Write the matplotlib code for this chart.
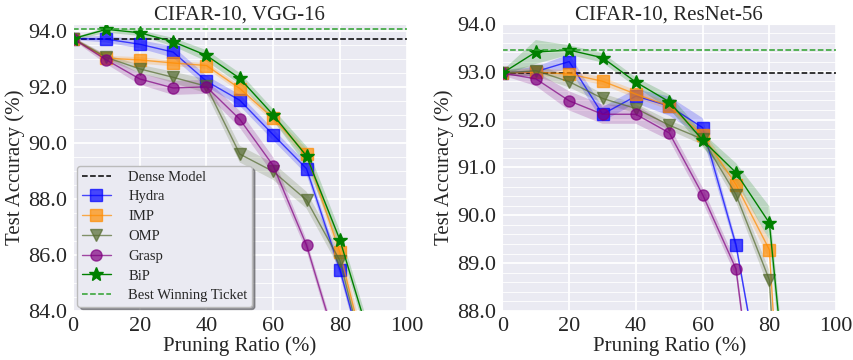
import matplotlib.pyplot as plt
from matplotlib.ticker import MultipleLocator
import seaborn as sns
import numpy as np

sns.set_style('darkgrid')
plt.rcParams['font.family'] = ['Liberation Serif', 'DejaVu Serif']

ratio = [0, 10, 20, 30, 40, 50, 60, 70, 80, 90]

# CIFAR-10, VGG-16
vgg_dense = 93.72
vgg_best = 94.08
vgg_hydra = [93.72, 93.70, 93.52, 93.24, 92.20, 91.52, 90.29, 89.08, 85.48, 81.1]
vgg_imp = [93.72, 93.02, 92.96, 92.85, 92.76, 91.94, 90.88, 89.60, 86.10, 81.3]
vgg_omp = [93.72, 93.05, 92.64, 92.34, 92.02, 89.60, 88.98, 87.96, 85.80, 81.1]
vgg_grasp = [93.72, 92.96, 92.28, 91.96, 92.00, 90.84, 89.19, 86.35, 82.40, 75.0]
vgg_bip = [93.72, 94.05, 93.93, 93.61, 93.12, 92.30, 91.00, 89.53, 86.54, 82.6]
vgg_hydra_std = [0.05, 0.12, 0.15, 0.2, 0.2, 0.2, 0.2, 0.2, 0.2, 0.2]
vgg_imp_std = [0.05, 0.1, 0.12, 0.1, 0.1, 0.12, 0.12, 0.2, 0.3, 0.3]
vgg_omp_std = [0.05, 0.1, 0.15, 0.2, 0.25, 0.3, 0.3, 0.3, 0.3, 0.3]
vgg_grasp_std = [0.05, 0.15, 0.2, 0.25, 0.25, 0.3, 0.3, 0.2, 0.2, 0.2]
vgg_bip_std = [0.05, 0.1, 0.1, 0.15, 0.2, 0.2, 0.2, 0.35, 0.3, 0.3]

# CIFAR-10, ResNet-56
res_dense = 92.97
res_best = 93.45
res_hydra = [92.97, 93.00, 93.21, 92.11, 92.49, 92.28, 91.83, 89.38, 85.5, 82.0]
res_imp = [92.97, 92.99, 92.95, 92.80, 92.53, 92.28, 91.67, 90.64, 89.28, 78.0]
res_omp = [92.97, 93.02, 92.79, 92.44, 92.23, 91.88, 91.59, 90.43, 88.65, 77.0]
res_grasp = [92.97, 92.85, 92.39, 92.11, 92.11, 91.72, 90.43, 88.88, 83.5, 78.0]
res_bip = [92.97, 93.41, 93.45, 93.29, 92.78, 92.37, 91.57, 90.89, 89.84, 82.8]
res_hydra_std = [0.05, 0.1, 0.15, 0.15, 0.15, 0.2, 0.2, 0.1, 0.1, 0.1]
res_imp_std = [0.05, 0.08, 0.08, 0.08, 0.08, 0.08, 0.1, 0.15, 0.2, 0.2]
res_omp_std = [0.05, 0.12, 0.12, 0.1, 0.1, 0.1, 0.12, 0.15, 0.2, 0.2]
res_grasp_std = [0.05, 0.15, 0.2, 0.2, 0.2, 0.15, 0.15, 0.15, 0.15, 0.15]
res_bip_std = [0.05, 0.25, 0.1, 0.1, 0.1, 0.15, 0.15, 0.2, 0.35, 0.3]

styles = [
    ('Hydra', 'blue', 's'),
    ('IMP', 'darkorange', 's'),
    ('OMP', 'darkolivegreen', 'v'),
    ('Grasp', 'purple', 'o'),
    ('BiP', 'green', '*'),
]


def draw(ax, dense, best, series, stds, title, ylim, minor):
    ax.axhline(dense, color='black', ls='--', lw=1.1, label='Dense Model')
    for (name, c, m), y, s in zip(styles, series, stds):
        y = np.array(y)
        s = np.array(s)
        ax.fill_between(ratio, y - s, y + s, color=c, alpha=0.2, lw=0)
        if name == 'BiP':
            ax.plot(ratio, y, color=c, marker=m, ms=10, lw=1.0, label=name)
        else:
            ax.plot(ratio, y, color=c, marker=m, ms=8, lw=1.0, alpha=0.7,
                    label=name)
    ax.axhline(best, color='tab:green', ls='--', lw=1.1,
               label='Best Winning Ticket')
    ax.set_xlim(0, 100)
    ax.set_ylim(*ylim)
    ax.set_xticks([0, 20, 40, 60, 80, 100])
    ax.yaxis.set_minor_locator(MultipleLocator(minor))
    ax.grid(which='major', color='white', lw=1.3)
    ax.grid(which='minor', axis='y', color='white', lw=0.6)
    ax.yaxis.set_major_formatter(plt.FormatStrFormatter('%.1f'))
    ax.tick_params(labelsize=16, pad=1)
    ax.set_title(title, fontsize=15, pad=3)
    ax.set_xlabel('Pruning Ratio (%)', fontsize=15, labelpad=0)
    ax.set_ylabel('Test Accuracy (%)', fontsize=15, labelpad=2)


fig, (ax1, ax2) = plt.subplots(1, 2, figsize=(8.54, 3.6), dpi=100)
fig.subplots_adjust(left=0.0855, right=0.979, bottom=0.136, top=0.934,
                    wspace=0.2875)

draw(ax1, vgg_dense, vgg_best,
     [vgg_hydra, vgg_imp, vgg_omp, vgg_grasp, vgg_bip],
     [vgg_hydra_std, vgg_imp_std, vgg_omp_std, vgg_grasp_std, vgg_bip_std],
     'CIFAR-10, VGG-16', (84, 94.25), 0.5)
ax1.set_yticks([84, 86, 88, 90, 92, 94])
draw(ax2, res_dense, res_best,
     [res_hydra, res_imp, res_omp, res_grasp, res_bip],
     [res_hydra_std, res_imp_std, res_omp_std, res_grasp_std, res_bip_std],
     'CIFAR-10, ResNet-56', (88, 94), 0.2)
ax2.set_yticks([88, 89, 90, 91, 92, 93, 94])

leg = ax1.legend(loc='lower left', fontsize=10.5, frameon=True, shadow=True,
                 borderpad=0.3, labelspacing=0.45, handlelength=2.0,
                 handletextpad=1.2, borderaxespad=0.3)
leg.get_frame().set_edgecolor('#bbbbbb')

fig.savefig('out.png', dpi=100)
